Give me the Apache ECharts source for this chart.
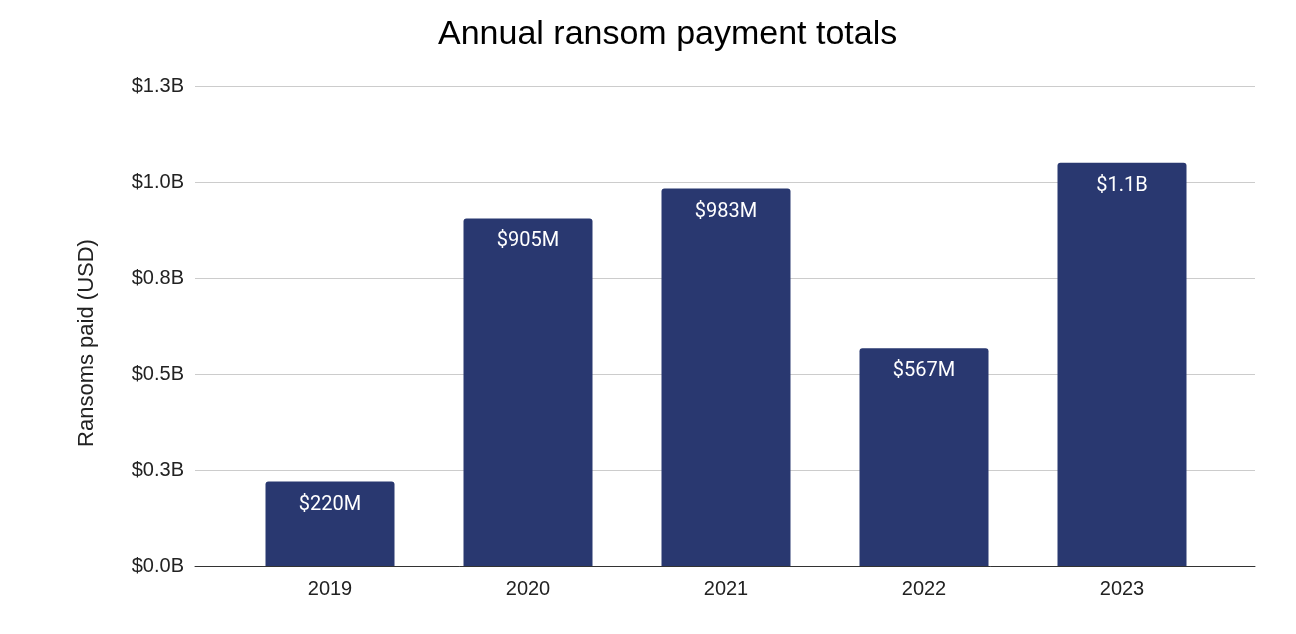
<!DOCTYPE html>
<html>
<head>
<meta charset="utf-8">
<script src="https://cdn.jsdelivr.net/npm/echarts@6/dist/echarts.min.js"></script>
<style>
html,body{margin:0;padding:0;background:#fff;}
#chart{width:1296px;height:634px;}
</style>
</head>
<body>
<div id="chart"></div>
<script>
// Data (values in millions of USD)
const years = ['2019', '2020', '2021', '2022', '2023'];
const ransomsPaidM = [220, 905, 983, 567, 1050];
const yTicksM = [0, 250, 500, 750, 1000, 1250];

const chart = echarts.init(document.getElementById('chart'), null, {renderer: 'canvas'});

function fmtAxis(v) {
  return '$' + (v / 1000).toFixed(1) + 'B';
}
function fmtBar(v) {
  return v >= 1000 ? '$' + (v / 1000).toFixed(1) + 'B' : '$' + v + 'M';
}

const yMax = yTicksM[yTicksM.length - 1];
const yStep = yTicksM[1] - yTicksM[0];

const option = {
  backgroundColor: '#ffffff',
  animation: false,
  title: {
    text: 'Annual ransom payment totals',
    left: 433,
    top: 13,
    textStyle: {
      fontFamily: 'Liberation Sans, Arial, sans-serif',
      fontSize: 34,
      fontWeight: 'normal',
      color: '#000'
    }
  },
  grid: [
    {left: 195, right: 41, top: 86, bottom: 68},
    {left: 231, right: 75, top: 86, bottom: 68}
  ],
  xAxis: [
    {
      gridIndex: 0, type: 'value', min: 0, max: 1,
      axisLine: {show: true, lineStyle: {color: '#333', width: 1}},
      axisTick: {show: false}, axisLabel: {show: false}, splitLine: {show: false}
    },
    {
      gridIndex: 1, type: 'category', data: years,
      axisLine: {show: false}, axisTick: {show: false},
      axisLabel: {
        margin: 13,
        fontFamily: 'Liberation Sans, Arial, sans-serif',
        fontSize: 20, color: '#222'
      }
    }
  ],
  yAxis: [
    {
      gridIndex: 0, type: 'value', min: 0, max: yMax, interval: yStep,
      name: 'Ransoms paid (USD)',
      nameLocation: 'middle',
      nameGap: 97,
      nameRotate: 90,
      nameTextStyle: {
        fontFamily: 'Liberation Sans, Arial, sans-serif',
        fontSize: 22, color: '#222',
        padding: [0, 34, 0, 0]
      },
      axisLine: {show: false}, axisTick: {show: false},
      axisLabel: {
        margin: 11,
        formatter: fmtAxis,
        fontFamily: 'Liberation Sans, Arial, sans-serif',
        fontSize: 20, color: '#222'
      },
      splitLine: {show: true, lineStyle: {color: '#cccccc', width: 1}}
    },
    {
      gridIndex: 1, type: 'value', min: 0, max: yMax, interval: yStep,
      show: false, splitLine: {show: false}
    }
  ],
  series: [
    {
      type: 'bar',
      xAxisIndex: 1, yAxisIndex: 1,
      data: ransomsPaidM,
      barWidth: 129,
      itemStyle: {color: '#293870', borderRadius: [3, 3, 0, 0]},
      label: {
        show: true,
        position: 'insideTop',
        distance: 13,
        formatter: p => fmtBar(p.value),
        fontFamily: 'Roboto, sans-serif',
        fontSize: 20,
        color: '#ffffff'
      }
    }
  ]
};
chart.setOption(option);
</script>
</body>
</html>
